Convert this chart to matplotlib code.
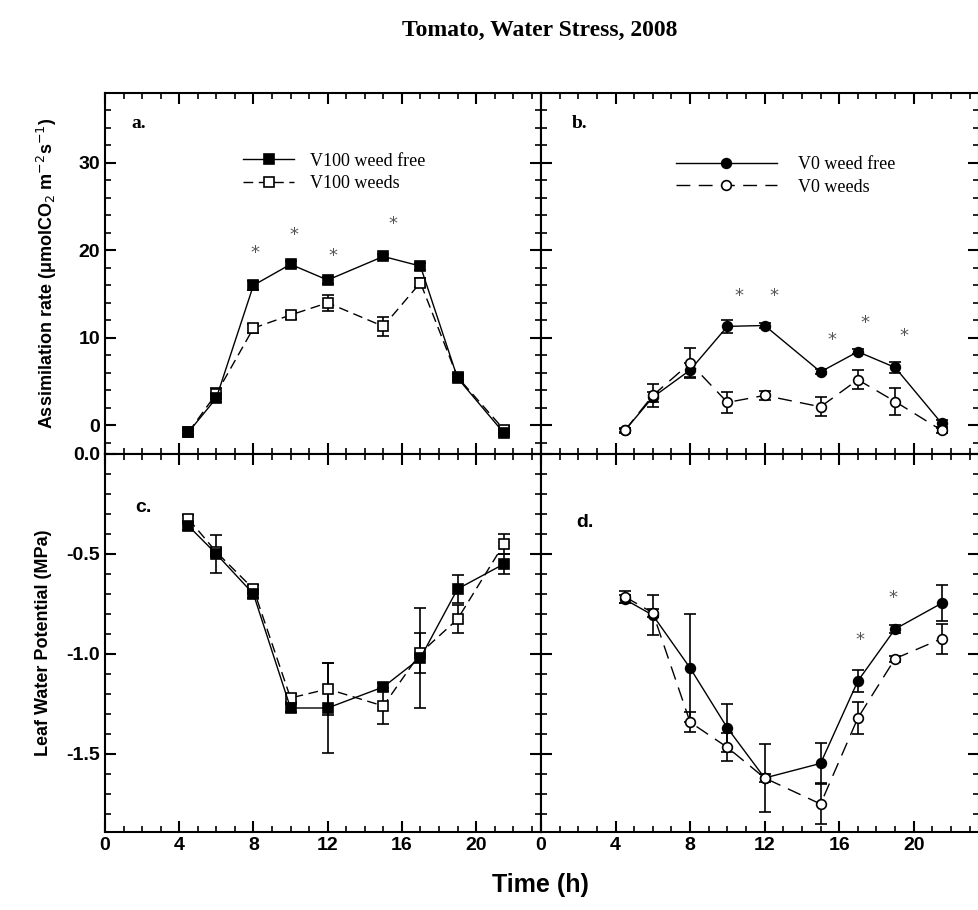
import matplotlib
matplotlib.use("Agg")
import matplotlib.pyplot as plt
from matplotlib.ticker import MultipleLocator, FormatStrFormatter

# sampling times (h)
hours = [4.5, 6, 8, 10, 12, 15, 17, 19, 21.5]

# a. assimilation, V100
a_free = [-0.8, 3.1, 16.0, 18.4, 16.6, 19.3, 18.2, 5.4, -0.9]
a_free_err = [0.3, 0.5, 0.5, 0.4, 0.4, 0.3, 0.4, 0.4, 0.3]
a_weeds = [-0.8, 3.6, 11.1, 12.6, 14.0, 11.3, 16.3, 5.5, -0.5]
a_weeds_err = [0.3, 0.6, 0.5, 0.4, 0.9, 1.05, 0.5, 0.4, 0.4]
a_star_x = [8.1, 10.2, 12.3, 15.5]
a_star_y = [19.7, 21.7, 19.4, 23.0]

# b. assimilation, V0
b_free = [-0.6, 3.2, 6.3, 11.3, 11.4, 6.1, 8.4, 6.6, 0.2]
b_free_err = [0.3, 0.6, 0.8, 0.7, 0.3, 0.3, 0.3, 0.6, 0.4]
b_weeds = [-0.6, 3.4, 7.1, 2.6, 3.4, 2.1, 5.2, 2.7, -0.6]
b_weeds_err = [0.2, 1.3, 1.7, 1.2, 0.5, 1.1, 1.1, 1.5, 0.3]
b_star_x = [10.6, 12.5, 15.6, 17.4, 19.5]
b_star_y = [14.8, 14.8, 9.7, 11.7, 10.2]

# c. leaf water potential, V100
c_free = [-0.36, -0.50, -0.70, -1.27, -1.27, -1.165, -1.02, -0.675, -0.55]
c_free_err = [0.02, 0.095, 0.02, 0.02, 0.227, 0.02, 0.25, 0.07, 0.05]
c_weeds = [-0.325, -0.49, -0.675, -1.22, -1.175, -1.26, -0.995, -0.826, -0.45]
c_weeds_err = [0.02, 0.02, 0.02, 0.02, 0.13, 0.09, 0.1, 0.07, 0.05]

# d. leaf water potential, V0
d_free = [-0.727, -0.806, -1.07, -1.37, -1.62, -1.547, -1.135, -0.875, -0.746]
d_free_err = [0.02, 0.1, 0.27, 0.12, 0.17, 0.1, 0.055, 0.02, 0.09]
d_weeds = [-0.714, -0.794, -1.341, -1.467, -1.62, -1.75, -1.32, -1.023, -0.923]
d_weeds_err = [0.03, 0.02, 0.05, 0.07, 0.02, 0.1, 0.08, 0.015, 0.075]
d_star_x = [17.1, 18.9]
d_star_y = [-0.93, -0.72]

sans = ['Liberation Sans Narrow', 'Liberation Sans', 'DejaVu Sans']
serif = ['Liberation Serif', 'DejaVu Serif']

fig = plt.figure(figsize=(9.79, 9.10), dpi=100)
W, H = 979.0, 910.0

def box(x0, x1, y0, y1):
    return [x0 / W, 1 - y1 / H, (x1 - x0) / W, (y1 - y0) / H]

ax_a = fig.add_axes(box(105, 541, 93, 454))
ax_b = fig.add_axes(box(541, 979, 93, 454))
ax_c = fig.add_axes(box(105, 541, 454, 832))
ax_d = fig.add_axes(box(541, 979, 454, 832))

for ax in (ax_a, ax_b, ax_c, ax_d):
    ax.set_xlim(0, 23.5)
    ax.xaxis.set_major_locator(MultipleLocator(4))
    ax.xaxis.set_minor_locator(MultipleLocator(1))
    ax.tick_params(which='both', direction='in', top=True, right=True)
    ax.tick_params(which='major', length=8, width=1.5)
    ax.tick_params(which='minor', length=4, width=1.2)
    for s in ax.spines.values():
        s.set_linewidth(1.5)

for ax in (ax_a, ax_b):
    ax.set_ylim(-3.3, 38)
    ax.yaxis.set_major_locator(MultipleLocator(10))
    ax.yaxis.set_minor_locator(MultipleLocator(2))
    ax.tick_params(labelbottom=False)

for ax in (ax_c, ax_d):
    ax.set_ylim(-1.89, 0.0)
    ax.yaxis.set_major_locator(MultipleLocator(0.5))
    ax.yaxis.set_minor_locator(MultipleLocator(0.1))
    ax.yaxis.set_major_formatter(FormatStrFormatter('%.1f'))

for ax in (ax_b, ax_d):
    ax.tick_params(labelleft=False)

for ax in (ax_a, ax_b, ax_c, ax_d):
    for lab in ax.get_xticklabels() + ax.get_yticklabels():
        lab.set_family(sans)
        lab.set_fontweight('bold')
        lab.set_fontsize(14)

sq = dict(marker='s', markersize=7.5, color='black', capsize=4.5, elinewidth=1.2,
          markeredgewidth=1.2)
ci = dict(marker='o', markersize=7, color='black', capsize=4.5, elinewidth=1.2,
          markeredgewidth=1.2)
dash = (0, (7, 4))
longdash = (0, (10, 6))

# panel a
wa = ax_a.errorbar(hours, a_weeds, yerr=a_weeds_err, linestyle=dash, lw=1,
                   markerfacecolor='white', **sq)
fa = ax_a.errorbar(hours, a_free, yerr=a_free_err, linestyle='-', lw=1,
                   markerfacecolor='black', **sq)
ax_a.legend([fa.lines[0], wa.lines[0]], ['V100 weed free', 'V100 weeds'],
            loc='upper left', bbox_to_anchor=(0.28, 0.88),
            frameon=False, handlelength=2.8, handletextpad=0.9, labelspacing=0.3,
            prop={'family': serif, 'size': 13})

# panel b
fb = ax_b.errorbar(hours, b_free, yerr=b_free_err, linestyle='-', lw=1,
                   markerfacecolor='black', **ci)
wb = ax_b.errorbar(hours, b_weeds, yerr=b_weeds_err, linestyle=longdash, lw=1,
                   markerfacecolor='white', **ci)
ax_b.legend([fb.lines[0], wb.lines[0]], ['V0 weed free', 'V0 weeds'],
            loc='upper left', bbox_to_anchor=(0.27, 0.87), frameon=False,
            handlelength=5.6, handletextpad=1.2, labelspacing=0.3,
            prop={'family': serif, 'size': 13})

# panel c
ax_c.errorbar(hours, c_weeds, yerr=c_weeds_err, linestyle=dash, lw=1,
              markerfacecolor='white', **sq)
ax_c.errorbar(hours, c_free, yerr=c_free_err, linestyle='-', lw=1,
              markerfacecolor='black', **sq)

# panel d
ax_d.errorbar(hours, d_free, yerr=d_free_err, linestyle='-', lw=1,
              markerfacecolor='black', **ci)
ax_d.errorbar(hours, d_weeds, yerr=d_weeds_err, linestyle=longdash, lw=1,
              markerfacecolor='white', **ci)

for ax, xs, ys in ((ax_a, a_star_x, a_star_y), (ax_b, b_star_x, b_star_y),
                   (ax_d, d_star_x, d_star_y)):
    for x, y in zip(xs, ys):
        ax.text(x, y, '*', ha='center', va='center', fontsize=13, color='#555555')

ax_a.text(0.06, 0.94, 'a.', transform=ax_a.transAxes, family=serif,
          fontweight='bold', fontsize=14, va='top')
ax_b.text(0.07, 0.94, 'b.', transform=ax_b.transAxes, family=serif,
          fontweight='bold', fontsize=14, va='top')
ax_c.text(0.07, 0.88, 'c.', transform=ax_c.transAxes, family=sans,
          fontweight='bold', fontsize=14, va='top')
ax_d.text(0.08, 0.84, 'd.', transform=ax_d.transAxes, family=sans,
          fontweight='bold', fontsize=14, va='top')

ax_a.set_ylabel('Assimilation rate (\u03bcmolCO$_2$ m$^{-2}$s$^{-1}$)',
                family=sans, fontweight='bold', fontsize=13, labelpad=14)
ax_c.set_ylabel('Leaf Water Potential (MPa)', family=sans, fontweight='bold',
                fontsize=13, labelpad=10)

fig.text(540 / W, 1 - 885 / H, 'Time (h)', ha='center', va='center',
         family=sans, fontweight='bold', fontsize=18)
fig.text(540 / W, 1 - 30 / H, 'Tomato, Water Stress, 2008', ha='center',
         va='center', family=serif, fontweight='bold', fontsize=17)

fig.savefig('out.png', dpi=100)
